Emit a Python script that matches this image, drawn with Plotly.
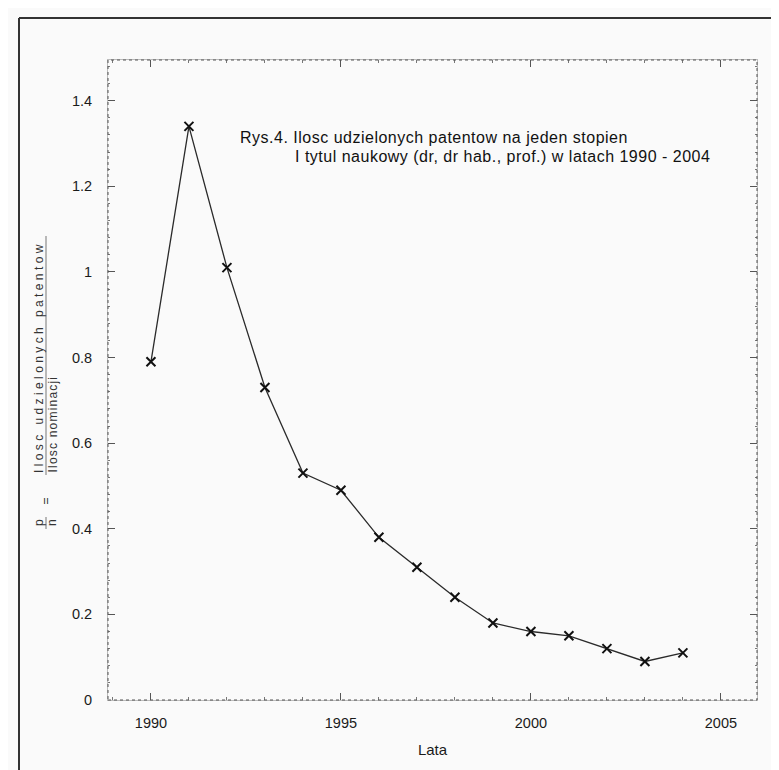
import plotly.graph_objects as go

years = [1990, 1991, 1992, 1993, 1994, 1995, 1996, 1997, 1998, 1999, 2000, 2001, 2002, 2003, 2004]
ratio = [0.79, 1.34, 1.01, 0.73, 0.53, 0.49, 0.38, 0.31, 0.24, 0.18, 0.16, 0.15, 0.12, 0.09, 0.11]

title_line1 = "Rys.4. Ilosc udzielonych patentow na jeden stopien"
title_line2 = "I tytul naukowy (dr, dr hab., prof.) w latach 1990 - 2004"
x_title = "Lata"
num_text = "Ilosc udzielonych patentow"
den_text = "Ilosc nominacji"

W, H = 779, 770
L, R, T, B = 100, 749, 52, 692
pw, ph = R - L, B - T


def px(x):
    return (x - L) / pw


def py(y):
    return (B - y) / ph


fig = go.Figure()
fig.add_trace(go.Scatter(
    x=years, y=ratio, mode="lines+markers",
    line=dict(color="#2a2a2a", width=1.3),
    marker=dict(symbol="x-thin", size=9, color="#111", line=dict(width=2, color="#111")),
    showlegend=False,
))

font = "Liberation Sans, Arial, sans-serif"
axis_common = dict(
    showline=True, linecolor="#bbbbbb", linewidth=1, mirror="allticks",
    ticks="inside", tickcolor="#555", ticklen=7, tickwidth=1,
    showgrid=False, zeroline=False,
    tickfont=dict(family=font, size=14.5, color="#1a1a1a"),
)
fig.update_xaxes(
    range=[1988.87, 2005.95], tickvals=[1990, 1995, 2000, 2005],
    minor=dict(ticks="inside", ticklen=3, tickcolor="#777", dtick=1, tick0=1990),
    title=dict(text=x_title, font=dict(family=font, size=15, color="#1a1a1a"), standoff=14),
    ticklabelstandoff=10,
    **axis_common,
)
fig.update_yaxes(
    range=[0, 1.495], tick0=0, dtick=0.2,
    minor=dict(ticks="inside", ticklen=2, tickcolor="#777", dtick=0.04),
    ticklabelstandoff=12,
    **axis_common,
)

tfont = dict(family=font, size=16, color="#111")
tls = "letter-spacing:0.5px"
ann = []
ann.append(dict(text=f"<span style='{tls}'>{title_line1}</span>", x=px(230), y=py(130),
                xref="paper", yref="paper", xanchor="left", yanchor="middle",
                showarrow=False, font=tfont))
ann.append(dict(text=f"<span style='{tls}'>{title_line2}</span>", x=px(285), y=py(148),
                xref="paper", yref="paper", xanchor="left", yanchor="middle",
                showarrow=False, font=tfont))

rot_font = dict(family=font, size=12, color="#333")
ann.append(dict(text=f"<span style='letter-spacing:3.4px'>{num_text}</span>", x=px(31), y=py(467),
                xref="paper", yref="paper", textangle=-90, xanchor="center", yanchor="bottom",
                showarrow=False, font=rot_font))
ann.append(dict(text=f"<span style='letter-spacing:1.2px'>{den_text}</span>", x=px(44), y=py(467),
                xref="paper", yref="paper", textangle=-90, xanchor="center", yanchor="bottom",
                showarrow=False, font=rot_font))
ann.append(dict(text="=", x=px(37.5), y=py(493), xref="paper", yref="paper",
                textangle=-90, xanchor="center", yanchor="middle", showarrow=False, font=rot_font))
ann.append(dict(text="p", x=px(31), y=py(515), xref="paper", yref="paper",
                textangle=-90, xanchor="center", yanchor="middle", showarrow=False, font=rot_font))
ann.append(dict(text="n", x=px(44), y=py(515), xref="paper", yref="paper",
                textangle=-90, xanchor="center", yanchor="middle", showarrow=False, font=rot_font))

shapes = [
    # dotted plot frame (scanned gnuplot look)
    dict(type="rect", xref="paper", yref="paper", x0=0, x1=1, y0=0, y1=1,
         line=dict(color="#555", width=1, dash="dot"), layer="above"),
    # fraction bars
    dict(type="line", xref="paper", yref="paper", x0=px(38), x1=px(38), y0=py(228), y1=py(467),
         line=dict(color="#777", width=1)),
    dict(type="line", xref="paper", yref="paper", x0=px(38), x1=px(38), y0=py(509), y1=py(521),
         line=dict(color="#777", width=1)),
    # outer frame of the scanned page
    dict(type="line", xref="paper", yref="paper", x0=px(11), x1=px(11), y0=py(780), y1=py(10),
         line=dict(color="#333", width=2)),
    dict(type="line", xref="paper", yref="paper", x0=px(11), x1=px(790), y0=py(10), y1=py(10),
         line=dict(color="#333", width=2)),
]

fig.update_layout(
    width=W, height=H,
    margin=dict(l=L, r=W - R, t=T, b=H - B),
    paper_bgcolor="#fafafa", plot_bgcolor="#fafafa",
    annotations=ann, shapes=shapes,
    font=dict(family=font, color="#222"),
)

fig.write_html("out.html")
